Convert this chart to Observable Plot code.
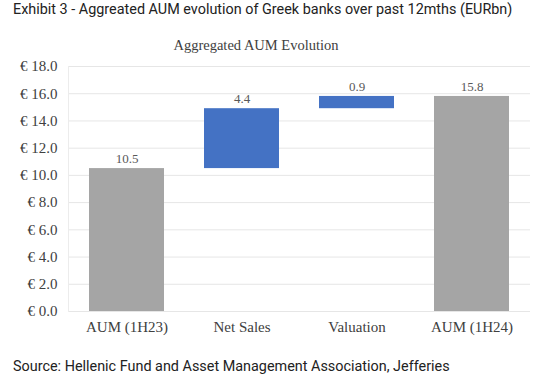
<!DOCTYPE html>
<html>
<head>
<meta charset="utf-8">
<script src="https://cdn.jsdelivr.net/npm/d3@7"></script>
<script src="https://cdn.jsdelivr.net/npm/@observablehq/plot@0.6"></script>
<style>
  html, body { margin: 0; padding: 0; background: #fff; width: 550px; height: 380px; overflow: hidden; position: relative; }
  .title { position: absolute; left: 13px; top: 0px; font-family: Roboto, sans-serif; font-size: 14.4px; line-height: 20px; color: #222; white-space: nowrap; }
  .subtitle { position: absolute; left: 0; width: 512px; top: 35px; text-align: center; font-family: "Liberation Serif", serif; font-size: 14.5px; line-height: 20px; color: #404040; }
  .source { position: absolute; left: 13px; top: 357px; font-family: Roboto, sans-serif; font-size: 14.4px; line-height: 20px; color: #222; white-space: nowrap; }
  #chart { position: absolute; left: 0; top: 56px; }
  #chart svg text { font-family: "Liberation Serif", serif; }
</style>
</head>
<body>
<div class="title">Exhibit 3 - Aggreated AUM evolution of Greek banks over past 12mths (EURbn)</div>
<div class="subtitle">Aggregated AUM Evolution</div>
<div id="chart"></div>
<div class="source">Source: Hellenic Fund and Asset Management Association, Jefferies</div>
<script>
const categories = ["AUM (1H23)", "Net Sales", "Valuation", "AUM (1H24)"];
const values = [10.5, 4.4, 0.9, 15.8];
const kinds = ["total", "delta", "delta", "total"];
const yTicks = [0, 2, 4, 6, 8, 10, 12, 14, 16, 18];

let running = 0;
const rows = categories.map((c, i) => {
  let y1, y2;
  if (kinds[i] === "total") { y1 = 0; y2 = values[i]; running = values[i]; }
  else { y1 = running; y2 = running + values[i]; running = y2; }
  return { category: c, value: values[i], kind: kinds[i], y1, y2 };
});

const chart = Plot.plot({
  width: 550,
  height: 290,
  marginLeft: 68,
  marginRight: 20,
  marginTop: 10,
  marginBottom: 35,
  style: { fontFamily: "'Liberation Serif', serif", background: "white" },
  x: { domain: categories, paddingInner: 0.345, paddingOuter: 0.173, label: null },
  y: { domain: [0, 18], ticks: yTicks, label: null },
  marks: [
    Plot.gridY(yTicks, { stroke: "#e6e6e6", strokeOpacity: 1 }),
    Plot.frame({ anchor: "left", stroke: "#ececec" }),
    Plot.axisY(yTicks, { tickSize: 0, tickPadding: 11, fontSize: 15, fill: "#404040", tickFormat: d => "€ " + d.toFixed(1), label: null }),
    Plot.axisX({ tickSize: 0, tickPadding: 10, fontSize: 15, fill: "#404040", label: null }),
    Plot.barY(rows, { x: "category", y1: "y1", y2: "y2", fill: d => d.kind === "total" ? "#a5a5a5" : "#4472c4" }),
    Plot.text(rows, { x: "category", y: "y2", text: d => d.value.toFixed(1), dy: -10, fontSize: 13, fontFamily: "'Liberation Serif', serif", fill: "#595959" })
  ]
});
document.getElementById("chart").appendChild(chart);
</script>
</body>
</html>
